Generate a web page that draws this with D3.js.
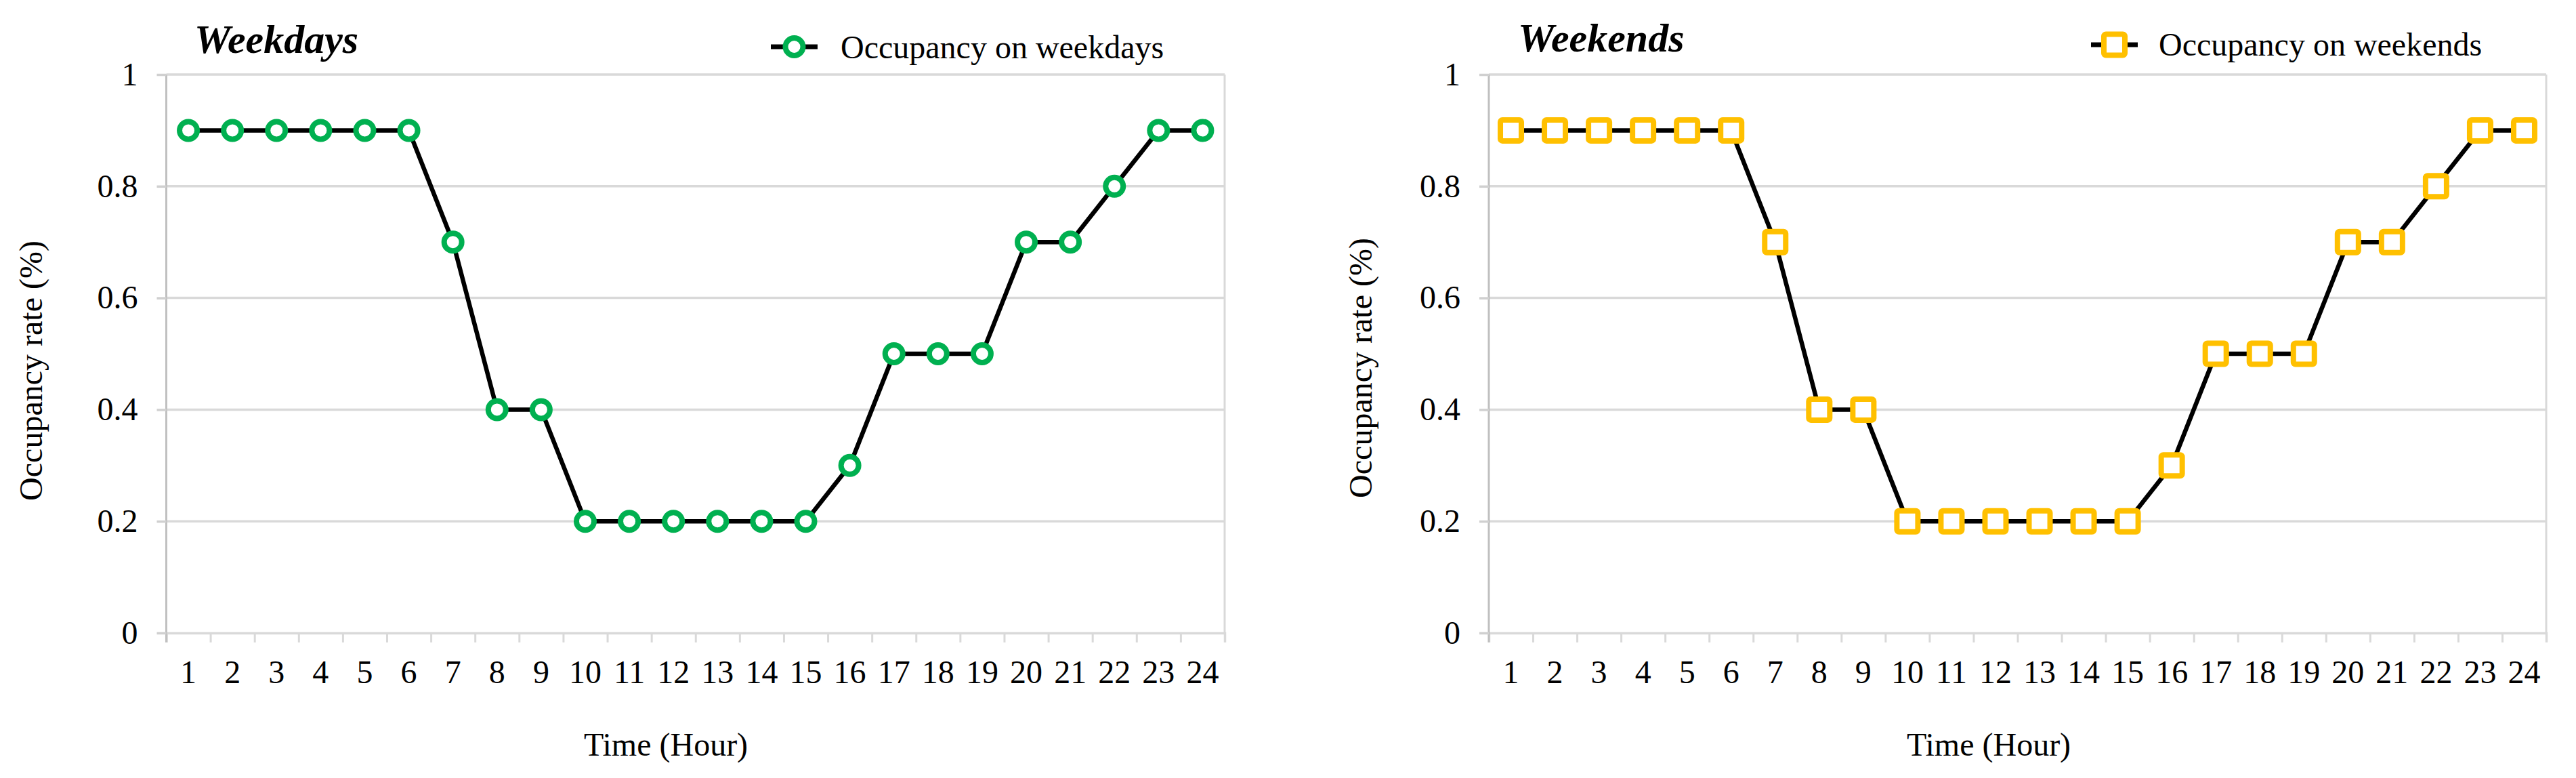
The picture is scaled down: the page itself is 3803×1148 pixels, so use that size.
<!DOCTYPE html>
<html>
<head>
<meta charset="utf-8">
<script src="https://cdn.jsdelivr.net/npm/d3@7"></script>
<style>
  html, body { margin: 0; padding: 0; background: #fff; }
  svg { display: block; }
  text { font-family: "Liberation Serif", "Times New Roman", serif; fill: #000; }
</style>
</head>
<body>
<svg id="chart" width="3803" height="1148"></svg>
<script>
// ---- data ----
const hours = ["1","2","3","4","5","6","7","8","9","10","11","12","13","14","15","16","17","18","19","20","21","22","23","24"];
const weekdays = [0.9,0.9,0.9,0.9,0.9,0.9,0.7,0.4,0.4,0.2,0.2,0.2,0.2,0.2,0.2,0.3,0.5,0.5,0.5,0.7,0.7,0.8,0.9,0.9];
const weekends = [0.9,0.9,0.9,0.9,0.9,0.9,0.7,0.4,0.4,0.2,0.2,0.2,0.2,0.2,0.2,0.3,0.5,0.5,0.5,0.7,0.7,0.8,0.9,0.9];
const yTicks = [0, 0.2, 0.4, 0.6, 0.8, 1];
const yTickLabels = ["0","0.2","0.4","0.6","0.8","1"];
const titles = ["Weekdays", "Weekends"];
const legendLabels = ["Occupancy on weekdays", "Occupancy on weekends"];
const yLabel = "Occupancy rate (%)";
const xLabel = "Time (Hour)";

const svg = d3.select("#chart");

const panels = [
  { values: weekdays, title: titles[0], legend: legendLabels[0], marker: "circle", color: "#00b050",
    x0: 245.5, x1: 1808, titleX: 287, titleY: 78, legX: 1138, legY: 69, legTextX: 1241, legTextY: 86,
    yLabX: 62, yLabY: 547, xLabX: 983 },
  { values: weekends, title: titles[1], legend: legendLabels[1], marker: "square", color: "#ffc000",
    x0: 2198, x1: 3759, titleX: 2241, titleY: 76, legX: 3087, legY: 66, legTextX: 3187, legTextY: 82,
    yLabX: 2025, yLabY: 543, xLabX: 2936 }
];

const yTop = 110, yBot = 934;
const fs = 48;

function drawMarker(g, type, color, cx, cy) {
  if (type === "circle") {
    g.append("circle").attr("cx", cx).attr("cy", cy).attr("r", 13)
      .attr("fill", "#fff").attr("stroke", color).attr("stroke-width", 8);
  } else {
    const s = 31;
    g.append("rect").attr("x", cx - s/2).attr("y", cy - s/2).attr("width", s).attr("height", s)
      .attr("rx", 3).attr("fill", "#fff").attr("stroke", color).attr("stroke-width", 8);
  }
}

panels.forEach(p => {
  const g = svg.append("g");
  const x = d3.scaleBand().domain(hours).range([p.x0, p.x1]).padding(0);
  const xLin = d3.scaleLinear().domain([0, hours.length]).range([p.x0, p.x1]);
  const y = d3.scaleLinear().domain([0, 1]).range([yBot, yTop]);

  // gridlines
  g.append("g").selectAll("line").data(yTicks.filter(v => v > 0)).join("line")
    .attr("x1", p.x0).attr("x2", p.x1)
    .attr("y1", d => y(d)).attr("y2", d => y(d))
    .attr("stroke", "#d9d9d9").attr("stroke-width", 3.5);

  // right border
  g.append("line").attr("x1", p.x1).attr("x2", p.x1).attr("y1", yTop).attr("y2", yBot)
    .attr("stroke", "#d9d9d9").attr("stroke-width", 3);

  // x axis (ticks at category boundaries)
  const xAxis = g.append("g").attr("transform", `translate(0,${yBot})`)
    .call(d3.axisBottom(xLin).tickValues(d3.range(0, hours.length + 1)).tickSize(14).tickFormat(""));
  xAxis.select(".domain").attr("stroke", "#d9d9d9").attr("stroke-width", 3.5);
  xAxis.selectAll(".tick line").attr("stroke", "#d9d9d9").attr("stroke-width", 3);

  // x tick labels
  g.append("g").selectAll("text").data(hours).join("text")
    .attr("x", d => x(d) + x.bandwidth() / 2).attr("y", 1008)
    .attr("text-anchor", "middle").attr("font-size", fs).text(d => d);

  // y axis
  const yAxis = g.append("g").attr("transform", `translate(${p.x0},0)`)
    .call(d3.axisLeft(y).tickValues(yTicks).tickSize(14).tickPadding(28)
      .tickFormat((d, i) => yTickLabels[i]));
  yAxis.select(".domain").attr("d", `M0,${yTop}V${yBot + 14}`).attr("stroke", "#c0c0c0").attr("stroke-width", 3);
  yAxis.selectAll(".tick line").attr("stroke", "#d0d0d0").attr("stroke-width", 3.5);
  yAxis.selectAll(".tick text").attr("font-size", fs)
    .attr("font-family", "'Liberation Serif', 'Times New Roman', serif").attr("fill", "#000");

  // line
  const line = d3.line().x((d, i) => x(hours[i]) + x.bandwidth() / 2).y(d => y(d));
  g.append("path").datum(p.values).attr("d", line)
    .attr("fill", "none").attr("stroke", "#000").attr("stroke-width", 6.5).attr("stroke-linejoin", "round");

  // markers
  const mg = g.append("g");
  p.values.forEach((v, i) => drawMarker(mg, p.marker, p.color, x(hours[i]) + x.bandwidth() / 2, y(v)));

  // title
  g.append("text").attr("x", p.titleX).attr("y", p.titleY)
    .attr("font-size", 60).attr("font-weight", "bold").attr("font-style", "italic").text(p.title);

  // legend
  g.append("line").attr("x1", p.legX).attr("x2", p.legX + 69).attr("y1", p.legY).attr("y2", p.legY)
    .attr("stroke", "#000").attr("stroke-width", 7);
  drawMarker(g, p.marker, p.color, p.legX + 34.5, p.legY);
  g.append("text").attr("x", p.legTextX).attr("y", p.legTextY).attr("font-size", fs).text(p.legend);

  // axis labels
  g.append("text").attr("transform", `translate(${p.yLabX},${p.yLabY}) rotate(-90)`)
    .attr("text-anchor", "middle").attr("font-size", fs).text(yLabel);
  g.append("text").attr("x", p.xLabX).attr("y", 1115)
    .attr("text-anchor", "middle").attr("font-size", fs).text(xLabel);
});
</script>
</body>
</html>
